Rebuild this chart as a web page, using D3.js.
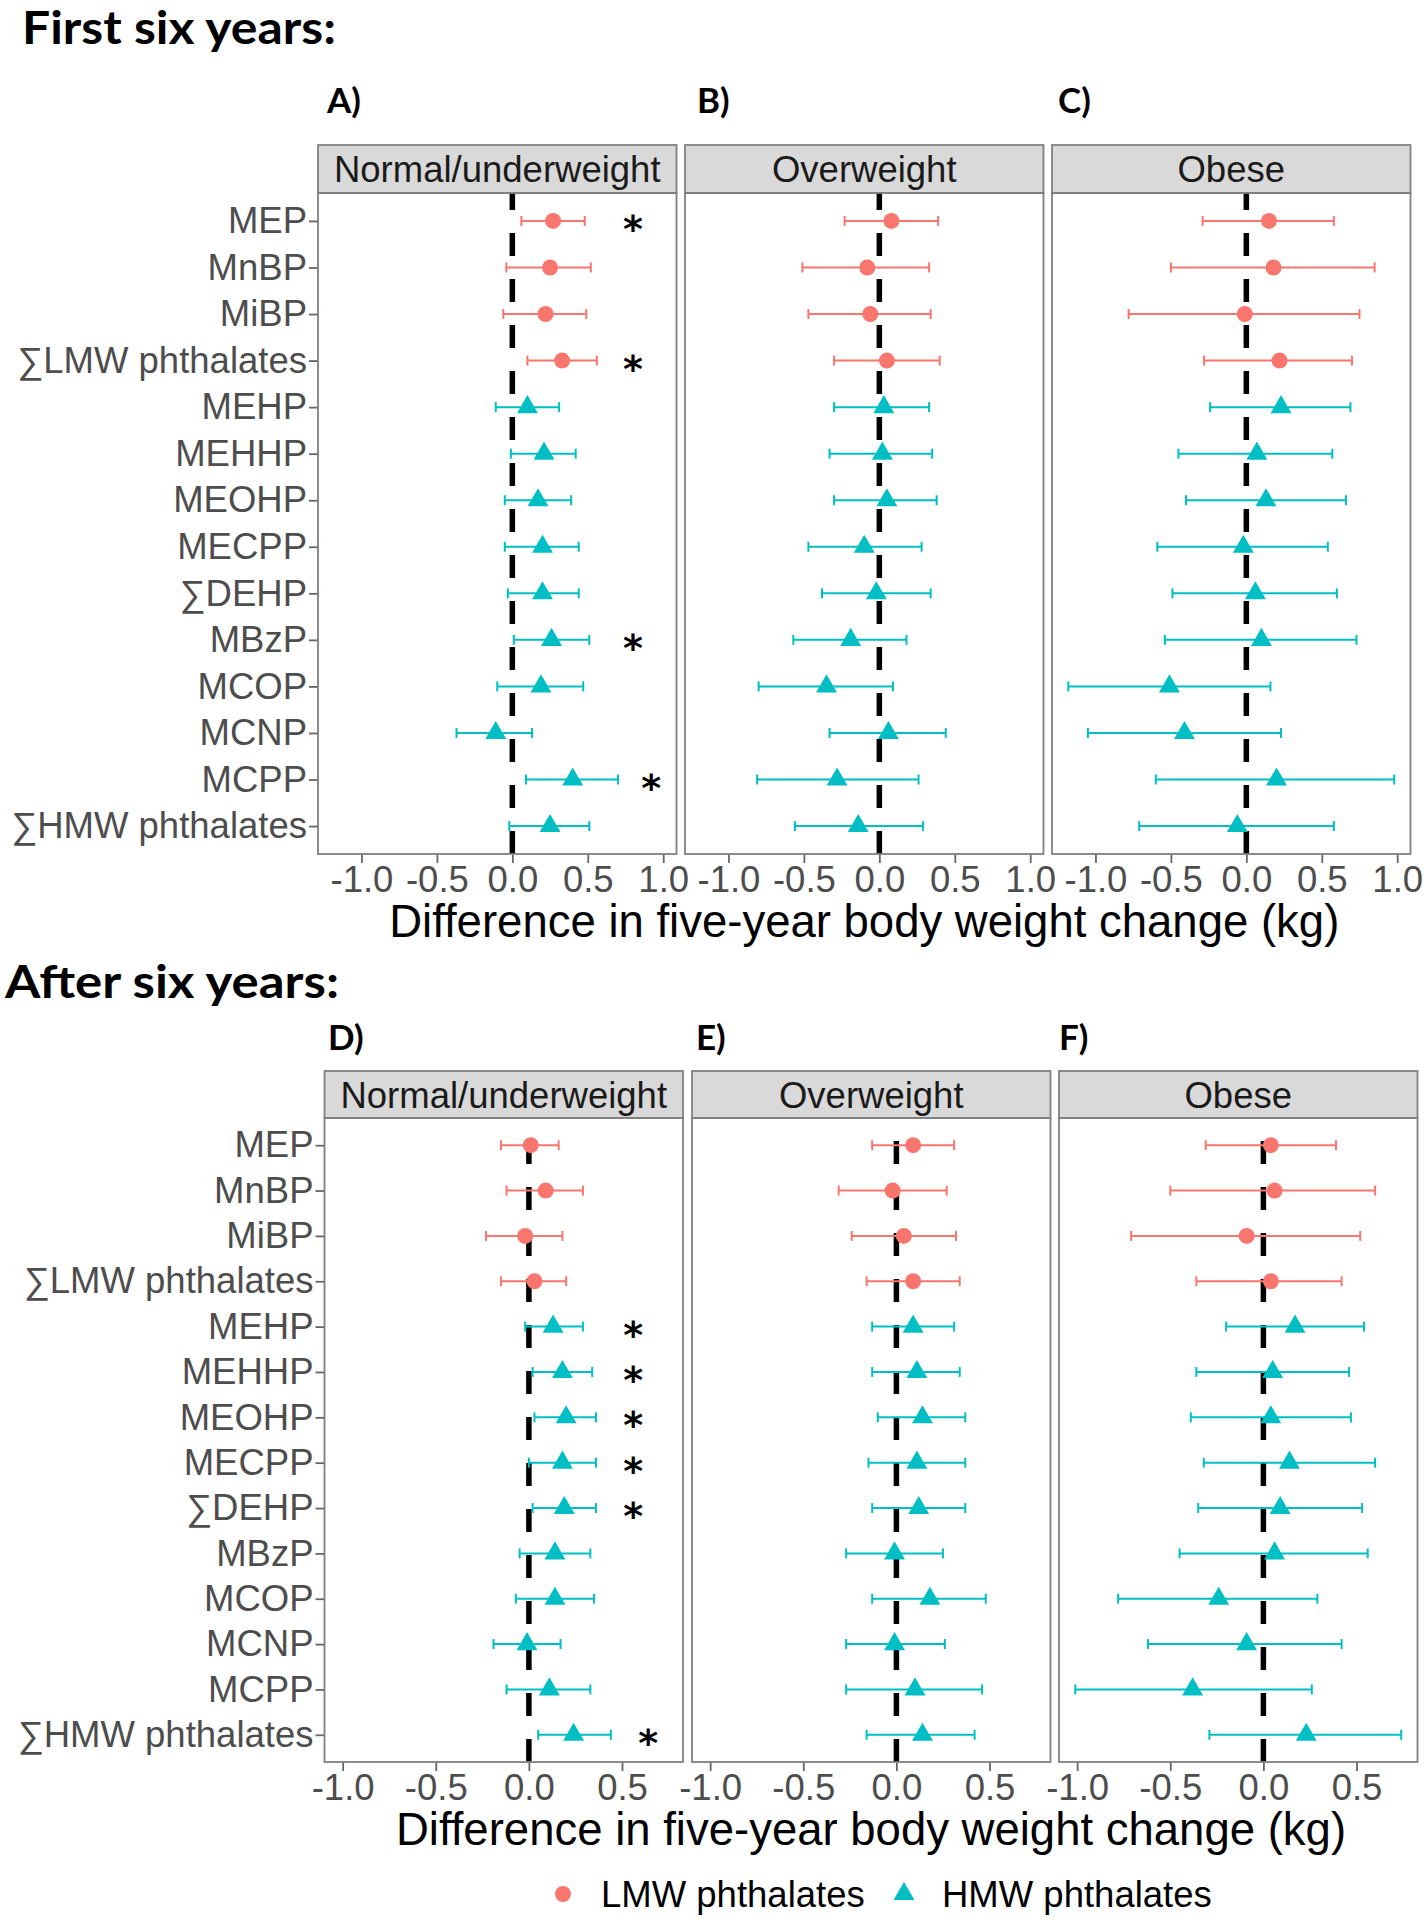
<!DOCTYPE html>
<html><head><meta charset="utf-8">
<script src="https://cdn.jsdelivr.net/npm/d3@7"></script>
<style>body{margin:0;background:#fff}</style>
</head><body>
<svg id="chart" width="1424" height="1920"></svg>
<script>
// ---------------- DATA ----------------
const categories = ["MEP","MnBP","MiBP","∑LMW phthalates","MEHP","MEHHP","MEOHP","MECPP","∑DEHP","MBzP","MCOP","MCNP","MCPP","∑HMW phthalates"];
const classes = ["LMW","LMW","LMW","LMW","HMW","HMW","HMW","HMW","HMW","HMW","HMW","HMW","HMW","HMW"];
const bmiGroups = ["Normal/underweight","Overweight","Obese"];
const sectionTitles = ["First six years:","After six years:"];
const panelLettersFirst = ["A)","B)","C)"];
const panelLettersAfter = ["D)","E)","F)"];
const legendLabels = ["LMW phthalates","HMW phthalates"];
const axisTitle = "Difference in five-year body weight change (kg)";
const ticksFirst = [-1, -0.5, 0, 0.5, 1];
const tickLabelsFirst = ["-1.0","-0.5","0.0","0.5","1.0"];
const ticksAfter = [-1, -0.5, 0, 0.5];
const tickLabelsAfter = ["-1.0","-0.5","0.0","0.5"];

// First six years
const firstNormalEst  = [0.27, 0.25, 0.22, 0.33, 0.10, 0.21, 0.17, 0.20, 0.20, 0.26, 0.19, -0.11, 0.40, 0.25];
const firstNormalLow  = [0.06, -0.04, -0.06, 0.10, -0.11, -0.01, -0.05, -0.05, -0.03, 0.01, -0.10, -0.37, 0.09, -0.02];
const firstNormalHigh = [0.48, 0.52, 0.49, 0.56, 0.31, 0.42, 0.39, 0.44, 0.44, 0.51, 0.47, 0.13, 0.70, 0.51];
const firstOverEst    = [0.08, -0.08, -0.06, 0.05, 0.03, 0.02, 0.05, -0.10, -0.02, -0.19, -0.35, 0.06, -0.28, -0.14];
const firstOverLow    = [-0.23, -0.51, -0.47, -0.30, -0.30, -0.33, -0.30, -0.47, -0.38, -0.57, -0.80, -0.33, -0.81, -0.56];
const firstOverHigh   = [0.39, 0.33, 0.34, 0.40, 0.33, 0.35, 0.38, 0.28, 0.34, 0.18, 0.09, 0.44, 0.26, 0.29];
const firstObeseEst   = [0.15, 0.18, -0.01, 0.22, 0.23, 0.07, 0.13, -0.02, 0.06, 0.10, -0.51, -0.41, 0.20, -0.06];
const firstObeseLow   = [-0.29, -0.50, -0.78, -0.28, -0.24, -0.45, -0.40, -0.59, -0.49, -0.54, -1.18, -1.05, -0.60, -0.71];
const firstObeseHigh  = [0.58, 0.85, 0.75, 0.70, 0.69, 0.57, 0.66, 0.54, 0.60, 0.73, 0.16, 0.23, 0.98, 0.58];

// After six years
const afterNormalEst  = [0.01, 0.09, -0.02, 0.03, 0.13, 0.18, 0.20, 0.18, 0.19, 0.14, 0.14, -0.01, 0.11, 0.24];
const afterNormalLow  = [-0.15, -0.12, -0.23, -0.15, -0.02, 0.02, 0.03, 0.00, 0.02, -0.05, -0.07, -0.19, -0.12, 0.05];
const afterNormalHigh = [0.16, 0.29, 0.18, 0.20, 0.29, 0.34, 0.36, 0.36, 0.36, 0.33, 0.35, 0.17, 0.33, 0.44];
const afterOverEst    = [0.09, -0.02, 0.04, 0.09, 0.09, 0.11, 0.14, 0.11, 0.12, -0.01, 0.18, -0.01, 0.10, 0.14];
const afterOverLow    = [-0.13, -0.31, -0.24, -0.16, -0.13, -0.13, -0.10, -0.15, -0.13, -0.27, -0.13, -0.27, -0.27, -0.16];
const afterOverHigh   = [0.31, 0.27, 0.32, 0.34, 0.31, 0.34, 0.37, 0.37, 0.37, 0.25, 0.48, 0.26, 0.46, 0.42];
const afterObeseEst   = [0.04, 0.06, -0.09, 0.04, 0.17, 0.05, 0.04, 0.14, 0.09, 0.06, -0.24, -0.09, -0.38, 0.23];
const afterObeseLow   = [-0.31, -0.50, -0.71, -0.36, -0.20, -0.36, -0.39, -0.32, -0.35, -0.45, -0.78, -0.62, -1.01, -0.29];
const afterObeseHigh  = [0.39, 0.60, 0.52, 0.42, 0.54, 0.46, 0.47, 0.60, 0.53, 0.56, 0.29, 0.42, 0.26, 0.74];

// significance markers (drawn in first panel of each section)
const starsFirstCats = ["MEP","∑LMW phthalates","MBzP","MCPP"];
const starsFirstX    = [0.80, 0.80, 0.80, 0.92];
const starsAfterCats = ["MEHP","MEHHP","MEOHP","MECPP","∑DEHP","∑HMW phthalates"];
const starsAfterX    = [0.56, 0.56, 0.56, 0.56, 0.56, 0.64];

// ---------------- LAYOUT ----------------
const SANS = "'Liberation Sans', Arial, sans-serif";
const BOLD = "Lato, 'Open Sans', sans-serif";
const STAR = "'DejaVu Sans', sans-serif";
const color = d3.scaleOrdinal().domain(["LMW","HMW"]).range(["#F8766D","#00BFC4"]);
const shapeOf = d3.scaleOrdinal().domain(["LMW","HMW"]).range([d3.symbolCircle, d3.symbolTriangle]);
const sizeOf = d3.scaleOrdinal().domain(["LMW","HMW"]).range([201, 190]);

const sections = [
  { title: sectionTitles[0], titleX: 22, titleY: 44, titleLen: 314,
    letters: panelLettersFirst, letterXs: [327, 697, 1058], letterY: 113,
    panelXs: [318, 685, 1052], panelW: 358.5,
    stripTop: 145, stripBottom: 193, plotBottom: 854, axisTitleY: 937,
    ticks: ticksFirst, tickLabels: tickLabelsFirst,
    est: [firstNormalEst, firstOverEst, firstObeseEst],
    low: [firstNormalLow, firstOverLow, firstObeseLow],
    high: [firstNormalHigh, firstOverHigh, firstObeseHigh],
    starCats: starsFirstCats, starX: starsFirstX },
  { title: sectionTitles[1], titleX: 5, titleY: 998, titleLen: 334,
    letters: panelLettersAfter, letterXs: [328, 696, 1059], letterY: 1050,
    panelXs: [324.5, 692, 1059], panelW: 358.5,
    stripTop: 1071, stripBottom: 1118, plotBottom: 1762, axisTitleY: 1845,
    ticks: ticksAfter, tickLabels: tickLabelsAfter,
    est: [afterNormalEst, afterOverEst, afterObeseEst],
    low: [afterNormalLow, afterOverLow, afterObeseLow],
    high: [afterNormalHigh, afterOverHigh, afterObeseHigh],
    starCats: starsAfterCats, starX: starsAfterX }
];

const svg = d3.select("#chart");
svg.append("rect").attr("width", 1424).attr("height", 1920).attr("fill", "#fff");

sections.forEach(sec => {
  // section title
  svg.append("text").attr("x", sec.titleX).attr("y", sec.titleY)
    .attr("font-family", BOLD).attr("font-weight", 700).attr("font-size", 45)
    .attr("textLength", sec.titleLen).attr("lengthAdjust", "spacingAndGlyphs")
    .attr("fill", "#000").text(sec.title);

  const allLow = d3.min(sec.low.flat()), allHigh = d3.max(sec.high.flat());
  const pad = (allHigh - allLow) * 0.05;
  const y = d3.scalePoint().domain(categories)
    .range([sec.stripBottom, sec.plotBottom]).padding(0.6);

  bmiGroups.forEach((grp, p) => {
    const x0 = sec.panelXs[p], x1 = x0 + sec.panelW;
    const x = d3.scaleLinear().domain([allLow - pad, allHigh + pad]).range([x0, x1]);
    const g = svg.append("g");

    // panel letter
    svg.append("text").attr("x", sec.letterXs[p]).attr("y", sec.letterY)
      .attr("font-family", BOLD).attr("font-weight", 700).attr("font-size", 35)
      .attr("fill", "#000").text(sec.letters[p]);

    // strip
    g.append("rect").attr("x", x0).attr("y", sec.stripTop)
      .attr("width", sec.panelW).attr("height", sec.stripBottom - sec.stripTop)
      .attr("fill", "#D9D9D9").attr("stroke", "#808080").attr("stroke-width", 1.8);
    g.append("text").attr("x", (x0 + x1) / 2).attr("y", (sec.stripTop + sec.stripBottom) / 2)
      .attr("dy", "0.36em").attr("text-anchor", "middle")
      .attr("font-family", SANS).attr("font-size", 36.5).attr("fill", "#1A1A1A").text(grp);

    // zero reference line (drawn bottom to top)
    g.append("line").attr("x1", x(0)).attr("x2", x(0))
      .attr("y1", sec.plotBottom).attr("y2", sec.stripBottom)
      .attr("stroke", "#000").attr("stroke-width", 5.5).attr("stroke-dasharray", "23,23");

    const rows = categories.map((c, i) => ({
      cat: c, cls: classes[i], est: sec.est[p][i], lo: sec.low[p][i], hi: sec.high[p][i]
    }));

    // error bars
    const eb = g.append("g").selectAll("g").data(rows).join("g")
      .attr("stroke", d => color(d.cls)).attr("stroke-width", 2);
    eb.append("line").attr("x1", d => x(d.lo)).attr("x2", d => x(d.hi))
      .attr("y1", d => y(d.cat)).attr("y2", d => y(d.cat));
    eb.append("line").attr("x1", d => x(d.lo)).attr("x2", d => x(d.lo))
      .attr("y1", d => y(d.cat) - 5).attr("y2", d => y(d.cat) + 5);
    eb.append("line").attr("x1", d => x(d.hi)).attr("x2", d => x(d.hi))
      .attr("y1", d => y(d.cat) - 5).attr("y2", d => y(d.cat) + 5);

    // points
    g.append("g").selectAll("path").data(rows).join("path")
      .attr("transform", d => `translate(${x(d.est)},${y(d.cat)})`)
      .attr("d", d => d3.symbol(shapeOf(d.cls), sizeOf(d.cls))())
      .attr("fill", d => color(d.cls));

    // significance stars
    if (p === 0) {
      g.append("g").selectAll("text").data(sec.starCats).join("text")
        .attr("x", (d, i) => x(sec.starX[i])).attr("y", d => y(d) + 21)
        .attr("text-anchor", "middle").attr("font-family", STAR)
        .attr("font-weight", 700).attr("font-size", 38).attr("fill", "#000").text("*");
    }

    // x axis
    const xa = g.append("g").attr("transform", `translate(0,${sec.plotBottom})`)
      .call(d3.axisBottom(x).tickValues(sec.ticks)
        .tickFormat((d, i) => sec.tickLabels[i]).tickSize(9).tickPadding(3));
    xa.select(".domain").remove();
    xa.selectAll(".tick line").attr("stroke", "#666").attr("stroke-width", 1.8);
    xa.selectAll(".tick text").attr("font-family", SANS).attr("font-size", 36.5)
      .attr("fill", "#4D4D4D");

    // y axis (first panel only)
    if (p === 0) {
      const ya = g.append("g").attr("transform", `translate(${x0},0)`)
        .call(d3.axisLeft(y).tickSize(9).tickPadding(2));
      ya.select(".domain").remove();
      ya.selectAll(".tick line").attr("stroke", "#666").attr("stroke-width", 1.8);
      ya.selectAll(".tick text").attr("font-family", SANS).attr("font-size", 36.5)
        .attr("fill", "#4D4D4D");
    }

    // panel border
    g.append("rect").attr("x", x0).attr("y", sec.stripBottom)
      .attr("width", sec.panelW).attr("height", sec.plotBottom - sec.stripBottom)
      .attr("fill", "none").attr("stroke", "#808080").attr("stroke-width", 1.8);
  });

  // axis title
  const midX = (sec.panelXs[0] + sec.panelXs[2] + sec.panelW) / 2;
  svg.append("text").attr("x", midX).attr("y", sec.axisTitleY)
    .attr("text-anchor", "middle").attr("font-family", SANS).attr("font-size", 45.5)
    .attr("fill", "#000").text(axisTitle);
});

// legend
const legendItems = [
  { cls: "LMW", label: legendLabels[0], sx: 563, tx: 601 },
  { cls: "HMW", label: legendLabels[1], sx: 904, tx: 942 }
];
const lg = svg.append("g");
legendItems.forEach(it => {
  lg.append("path").attr("transform", `translate(${it.sx},1894)`)
    .attr("d", d3.symbol(shapeOf(it.cls), sizeOf(it.cls))())
    .attr("fill", color(it.cls));
  lg.append("text").attr("x", it.tx).attr("y", 1907)
    .attr("font-family", SANS).attr("font-size", 36.5).attr("fill", "#000").text(it.label);
});
</script>
</body></html>
